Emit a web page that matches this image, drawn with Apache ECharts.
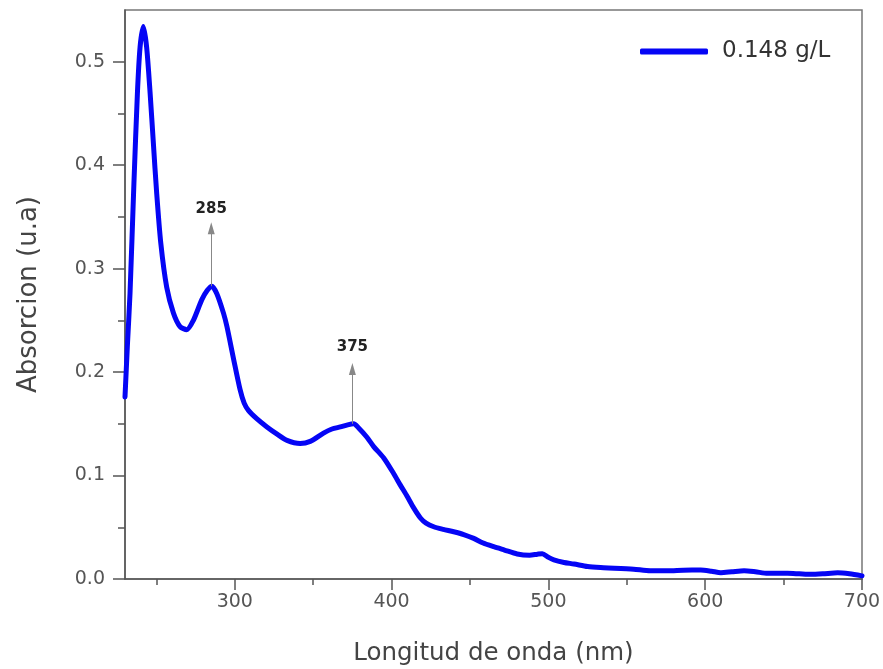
<!DOCTYPE html>
<html><head><meta charset="utf-8">
<script src="https://cdn.jsdelivr.net/npm/echarts@6/dist/echarts.min.js"></script>
<style>html,body{margin:0;padding:0;background:#fff}#c{width:883px;height:669px}</style>
</head><body><div id="c"></div>
<script>
const wavelength = [230,231.5,233.2,235.7,237.9,239.6,241.7,243.8,246,248.1,250.2,252.8,256.6,260.9,265.1,269.4,273.6,279,282.5,285.4,288.5,292.8,295,299.2,303.4,306,308.7,314,320.5,327,333.3,341.7,348.1,356.6,362,367.3,372,375.8,379,384.3,388.6,395,401.3,405.5,409.9,414,418.4,422,426.9,433,439.6,446,452.4,458,465.2,472,480.1,488,493,496.1,500,503.5,510,516.3,525,533.3,542,554.4,565,575.9,586,597.2,604,610,617,624.8,632,639.8,652.5,660,667.4,675,684.5,692,700];
const absorbance = [0.176,0.225,0.276,0.383,0.469,0.514,0.534,0.514,0.470,0.421,0.373,0.325,0.282,0.257,0.244,0.241,0.250,0.270,0.279,0.283,0.276,0.257,0.244,0.213,0.183,0.170,0.163,0.155,0.147,0.140,0.134,0.131,0.133,0.141,0.145,0.147,0.149,0.150,0.146,0.137,0.128,0.117,0.102,0.091,0.080,0.069,0.059,0.054,0.0505,0.048,0.0457,0.043,0.0393,0.035,0.0312,0.028,0.0242,0.023,0.024,0.0245,0.021,0.0184,0.016,0.0145,0.012,0.011,0.0105,0.0095,0.008,0.008,0.0085,0.0087,0.0075,0.0061,0.007,0.008,0.007,0.0055,0.0055,0.005,0.0045,0.005,0.006,0.005,0.003];
const seriesName = '0.148 g/L';
const xMajorTicks = [300,400,500,600,700];
const xMinorTicks = [250,350,450,550,650];
const yMajorTicks = [0,0.1,0.2,0.3,0.4,0.5];
const yMinorTicks = [0.05,0.15,0.25,0.35,0.45];
const peaks = [{x:285, y0:0.283, y1:0.339, label:'285', dist:12}, {x:375, y0:0.150, y1:0.203, label:'375', dist:14}];

const chart = echarts.init(document.getElementById('c'), null, {renderer:'canvas'});
const font = 'DejaVu Sans, sans-serif';
const axisColor = '#555';
const lineColor = '#0505f5';
const tickStyle = {color:axisColor, width:1.5};
chart.setOption({
  animation:false,
  backgroundColor:'#fff',
  grid:{left:125, right:21, top:10, bottom:90, containLabel:false, outerBoundsMode:'none',
    show:true, borderColor:'#777', borderWidth:1.5, backgroundColor:'transparent'},
  legend:{data:[{name:seriesName, icon:'roundRect'}], left:640, top:40, padding:0, itemWidth:68, itemHeight:6,
    textStyle:{fontFamily:font, fontSize:23, color:'#333', padding:[0,0,0,9]}},
  xAxis:[{
    type:'value', min:230, max:700,
    name:'Longitud de onda (nm)', nameLocation:'middle', nameGap:62,
    nameTextStyle:{fontFamily:font, fontSize:24.5, color:'#444'},
    axisLine:{show:true, onZero:false, lineStyle:{color:axisColor, width:1.5}},
    axisTick:{show:true, customValues:xMajorTicks, length:11, lineStyle:tickStyle},
    axisLabel:{customValues:xMajorTicks, margin:14, fontFamily:font, fontSize:19, color:'#555'},
    splitLine:{show:false}
  },{
    type:'value', min:230, max:700, position:'bottom',
    axisLine:{show:false},
    axisTick:{show:true, customValues:xMinorTicks, length:6, lineStyle:tickStyle},
    axisLabel:{show:false},
    splitLine:{show:false}
  }],
  yAxis:[{
    type:'value', min:0, max:0.55,
    name:'Absorcion (u.a)', nameLocation:'middle', nameGap:83,
    nameTextStyle:{fontFamily:font, fontSize:26, color:'#444'},
    axisLine:{show:true, lineStyle:{color:axisColor, width:1.5}},
    axisTick:{show:true, customValues:yMajorTicks, length:12, lineStyle:tickStyle},
    axisLabel:{customValues:yMajorTicks, margin:20, fontFamily:font, fontSize:19, color:'#555', formatter:v=>v.toFixed(1)},
    splitLine:{show:false}
  },{
    type:'value', min:0, max:0.55, position:'left',
    axisLine:{show:false},
    axisTick:{show:true, customValues:yMinorTicks, length:7, lineStyle:tickStyle},
    axisLabel:{show:false},
    splitLine:{show:false}
  }],
  series:[{
    name:seriesName, type:'line', xAxisIndex:0, yAxisIndex:0,
    data:wavelength.map((w,i)=>[w, absorbance[i]]),
    symbol:'none', smooth:0.25,
    lineStyle:{color:lineColor, width:5, join:'round', cap:'round'},
    itemStyle:{color:lineColor},
    markLine:{
      silent:true, symbol:['none','triangle'], symbolSize:[7,12],
      lineStyle:{color:'#888', width:1, type:'solid'},
      data: peaks.map(p=>[
        {coord:[p.x,p.y0], label:{show:true, position:'end', formatter:p.label, distance:p.dist, fontFamily:font, fontWeight:'bold', fontSize:15, color:'#222'}},
        {coord:[p.x,p.y1]}
      ])
    }
  }]
});
</script></body></html>
